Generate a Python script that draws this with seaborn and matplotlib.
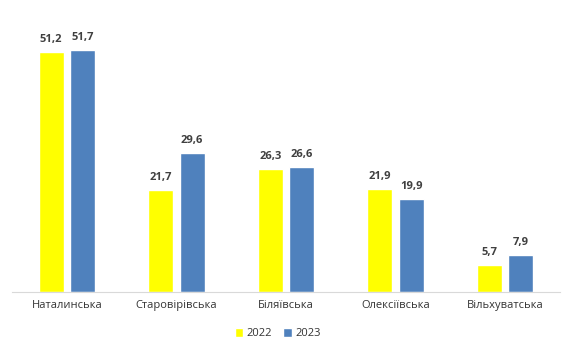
import pandas as pd
import matplotlib.pyplot as plt
import seaborn as sns

# Data
communities = ['Наталинська', 'Старовірівська', 'Біляївська', 'Олексіївська', 'Вільхуватська']
values_2022 = [51.2, 21.7, 26.3, 21.9, 5.7]
values_2023 = [51.7, 29.6, 26.6, 19.9, 7.9]
years = ['2022', '2023']

df = pd.DataFrame({
    'community': communities * 2,
    'year': [years[0]] * len(communities) + [years[1]] * len(communities),
    'value': values_2022 + values_2023,
})

sns.set_style('white')
plt.rcParams['font.family'] = ['Open Sans', 'DejaVu Sans']
text_color = '#404040'

fig = plt.figure(figsize=(5.72, 3.52), dpi=100)
ax = fig.add_axes([0.021, 0.170, 0.958, 0.773])

sns.barplot(data=df, x='community', y='value', hue='year',
            palette=['#FFFF00', '#4F81BD'], width=0.57, gap=0.2,
            saturation=1, ax=ax)

# value labels
for container in ax.containers:
    ax.bar_label(container, labels=[f'{v:.1f}'.replace('.', ',') for v in container.datavalues],
                 padding=5, fontsize=8, fontweight='bold', color=text_color)

ax.set_ylim(0, 58)
ax.set_xlabel('')
ax.set_ylabel('')
ax.set_yticks([])
ax.tick_params(axis='x', length=0, labelsize=8, colors='#333333', pad=6)

for side in ['top', 'left', 'right']:
    ax.spines[side].set_visible(False)
ax.spines['bottom'].set_color('#D9D9D9')
ax.spines['bottom'].set_linewidth(0.8)

leg = ax.legend(loc='upper center', bbox_to_anchor=(0.485, -0.095), ncol=2, frameon=False,
                fontsize=8, handlelength=0.8, handleheight=0.8, handletextpad=0.3,
                columnspacing=1.0)
for t in leg.get_texts():
    t.set_color('#333333')

fig.savefig('out.png', dpi=100)
